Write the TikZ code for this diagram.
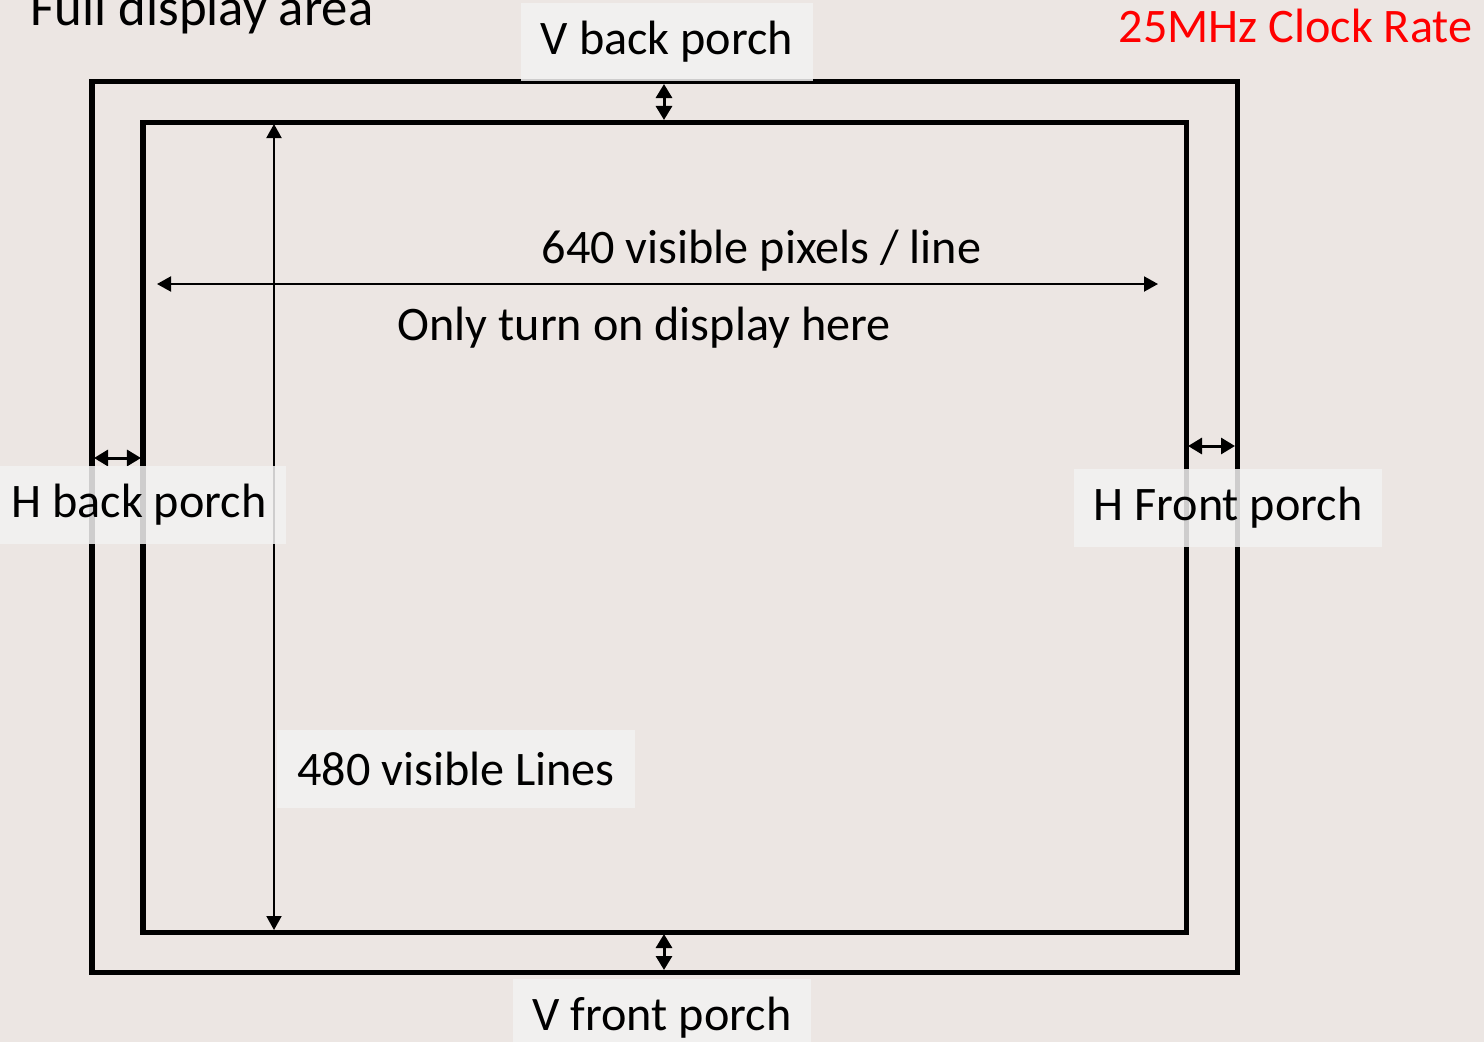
\documentclass[tikz,border=0pt]{standalone}
\usepackage{fontspec}
\setmainfont{Carlito}
\usepackage{xcolor}
\usetikzlibrary{arrows.meta}
\definecolor{bgpale}{RGB}{236,230,227}
\definecolor{boxpale}{RGB}{243,242,242}
\definecolor{clockred}{RGB}{255,0,0}
\newcommand{\pfont}{\fontsize{13.7}{16}\selectfont}

\begin{document}
\begin{tikzpicture}[x=0.01cm,y=-0.01cm,font=\pfont,
  frame/.style={line width=0.5mm},
  span/.style={line width=0.2mm,{Triangle[length=1.4mm,width=1.5mm]}-{Triangle[length=1.4mm,width=1.5mm]}},
  gap/.style={line width=0.3mm,{Triangle[length=1.4mm,width=1.6mm]}-{Triangle[length=1.4mm,width=1.6mm]}},
  tag/.style={fill=boxpale,fill opacity=0.85,text opacity=1,inner xsep=2mm,minimum height=7.7mm}]
  \fill[bgpale] (0,0) rectangle (1484,1042);
  \useasboundingbox (0,0) rectangle (1484,1042);
  % full area and visible area
  \draw[frame] (92,81) coordinate (outTL) rectangle (1237,972) coordinate (outBR);
  \draw[frame] (143,122) coordinate (inTL) rectangle (1186,932) coordinate (inBR);
  % porch markers
  \coordinate (vbT) at (664,84);   \coordinate (vbB) at (664,120);
  \coordinate (vfT) at (664,934);  \coordinate (vfB) at (664,970);
  \coordinate (hbL) at (94,458);   \coordinate (hbR) at (141,458);
  \coordinate (hfL) at (1188,446); \coordinate (hfR) at (1235,446);
  \foreach \a/\b in {vbT/vbB,vfT/vfB,hbL/hbR,hfL/hfR}
    {\draw[gap] (\a) -- (\b);}
  % visible extent
  \coordinate (lnT) at (274,124);  \coordinate (lnB) at (274,930);
  \coordinate (pxL) at (157,284);  \coordinate (pxR) at (1158,284);
  \draw[span] (lnT) -- (lnB);
  \draw[span] (pxL) -- (pxR);
  % labels
  \node[tag] (vback) at (667,42) {V back porch};
  \node[tag] (vfront) at (662,1018) {V front porch};
  \node[tag] (hback) at (139,505) {H back porch};
  \node[tag] (hfront) at (1228,508) {H Front porch};
  \node[tag] (lines) at (456,769) {480 visible Lines};
  \node[anchor=base west,inner sep=0pt,font=\fontsize{15}{17}\selectfont] (full) at (30,25) {Full display area};
  \node[anchor=base west,inner sep=0pt,text=clockred] (clock) at (1118,42) {25MHz Clock Rate};
  \node[anchor=base west,inner sep=0pt] (pixels) at (541,263) {640 visible pixels / line};
  \node[anchor=base west,inner sep=0pt] (onhere) at (397,340) {Only turn on display here};
\end{tikzpicture}
\end{document}
